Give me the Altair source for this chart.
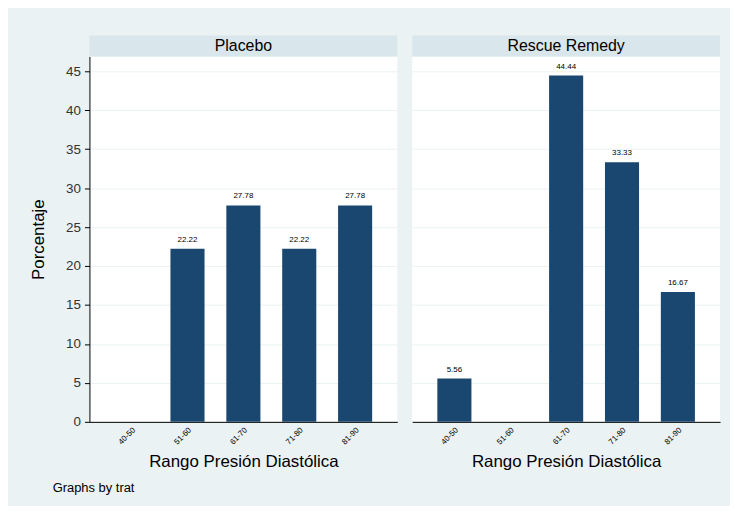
import altair as alt
import pandas as pd

rangos = ["40-50", "51-60", "61-70", "71-80", "81-90"]
placebo = [0.0, 22.22, 27.78, 22.22, 27.78]
rescue = [5.56, 0.0, 44.44, 33.33, 16.67]
panels = ["Placebo", "Rescue Remedy"]
y_ticks = [0, 5, 10, 15, 20, 25, 30, 35, 40, 45]

BAR = "#1a476f"
BG = "#eaf2f3"
STRIP = "#d9e6eb"
FONT = "Liberation Sans"
W = 310
H = 368


def panel(values, name, first):
    df = pd.DataFrame({"rango": rangos, "pct": values})
    df["lab"] = [f"{v:.2f}" if v > 0 else "" for v in values]
    if first:
        yaxis = alt.Axis(values=y_ticks, title="Porcentaje", titleFontSize=17,
                         titleFont=FONT, titleFontWeight="normal", titleColor="#000",
                         labelFontSize=13.5, labelColor="#333", labelFont=FONT,
                         tickSize=5, tickColor="#000", domainColor="#000",
                         gridColor=BG, titlePadding=18, labelPadding=4)
    else:
        yaxis = alt.Axis(values=y_ticks, title=None, labels=False, ticks=False,
                         domain=False, gridColor=BG)
    x = alt.X("rango:N", sort=rangos,
              scale=alt.Scale(paddingInner=0.39, paddingOuter=0.45),
              axis=alt.Axis(title="Rango Presión Diastólica", labelAngle=-45,
                            labelFontSize=8, labelFont=FONT, labelColor="#000",
                            ticks=False, domainColor="#000", titleFontSize=17,
                            titleFont=FONT, titleFontWeight="normal",
                            titleColor="#000", titlePadding=8, labelPadding=4))
    y = alt.Y("pct:Q", scale=alt.Scale(domain=[0, 46.9], nice=False), axis=yaxis)
    base = alt.Chart(df)
    bars = base.mark_bar(color=BAR).encode(x=x, y=y)
    text = base.mark_text(dy=-9, fontSize=8, font=FONT, color="#000").encode(
        x=alt.X("rango:N", sort=rangos), y="pct:Q", text="lab:N")
    sdata = alt.Data(values=[{"t": name}])
    strip = alt.Chart(sdata).mark_rect(color=STRIP, clip=False).encode(
        x=alt.value(0), x2=alt.value(W), y=alt.value(-21), y2=alt.value(0))
    stext = alt.Chart(sdata).mark_text(fontSize=16, font=FONT, color="#000",
                                       baseline="middle", clip=False).encode(
        x=alt.value(W / 2), y=alt.value(-10.5), text="t:N")
    return alt.layer(strip, stext, bars, text).properties(width=W, height=H)


chart = alt.hconcat(
    panel(placebo, panels[0], True),
    panel(rescue, panels[1], False),
    spacing=15,
).properties(
    background=BG,
    padding={"left": 21, "top": 26, "right": 10, "bottom": 8},
    title=alt.TitleParams("Graphs by trat", orient="bottom", anchor="start",
                          fontSize=13, font=FONT, fontWeight="normal",
                          color="#000", offset=13, dx=23),
).configure_view(fill="white", stroke=None)

chart.save("out.html", embed_options={"renderer": "svg", "actions": False})
